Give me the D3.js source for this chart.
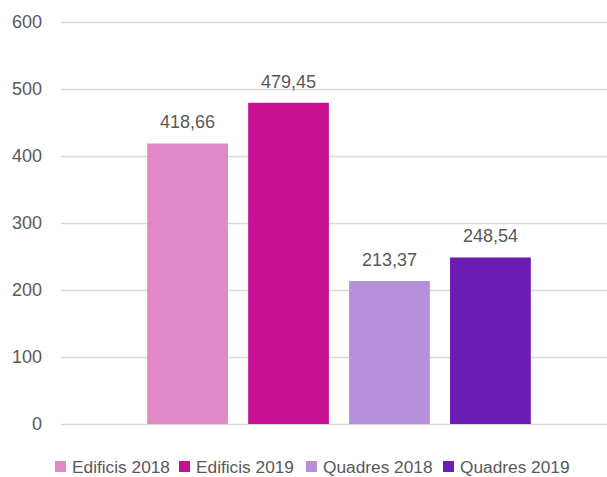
<!DOCTYPE html>
<html>
<head>
<meta charset="utf-8">
<script src="https://cdn.jsdelivr.net/npm/d3@7"></script>
<style>
  body { margin: 0; background: #fff; }
  text { font-family: "Liberation Sans", Arial, sans-serif; fill: #595959; }
</style>
</head>
<body>
<div id="box-div"></div>
<script>
const series = ['Edificis 2018', 'Edificis 2019', 'Quadres 2018', 'Quadres 2019']
const values = [418.66, 479.45, 213.37, 248.54]
const colors = ['#e288c6', '#c71193', '#b78fdb', '#6c1bb3']
const yTicks = [0, 100, 200, 300, 400, 500, 600]

const dms = {
    width: 607,
    height: 477,
    plotLeft: 61,
    plotRight: 607,
    plotTop: 22,
    plotBottom: 424
}

const box = d3.select('#box-div').append('svg')
    .attr('width', dms.width)
    .attr('height', dms.height)

const yScale = d3.scaleLinear()
    .domain([0, 600])
    .range([dms.plotBottom, dms.plotTop])

const xScale = d3.scaleBand()
    .domain(series)
    .range([127, 551])
    .paddingInner(0.2)
    .paddingOuter(0.2)

// gridlines
box.append('g')
    .selectAll('line')
    .data(yTicks)
    .join('line')
    .attr('x1', dms.plotLeft)
    .attr('x2', dms.plotRight)
    .attr('y1', d => Math.round(yScale(d)) + 0.5)
    .attr('y2', d => Math.round(yScale(d)) + 0.5)
    .attr('stroke', '#d9d9d9')
    .attr('stroke-width', 1.3)

// y tick labels
box.append('g')
    .selectAll('text')
    .data(yTicks)
    .join('text')
    .attr('x', 42)
    .attr('y', d => yScale(d))
    .attr('dy', '0.35em')
    .attr('text-anchor', 'end')
    .style('font-size', '18px')
    .text(d => d)

// bars
box.append('g')
    .selectAll('rect')
    .data(values)
    .join('rect')
    .attr('x', (d, i) => xScale(series[i]))
    .attr('y', d => yScale(d))
    .attr('width', xScale.bandwidth())
    .attr('height', d => yScale(0) - yScale(d))
    .attr('fill', (d, i) => colors[i])

// data labels
const fmt = d => d.toFixed(2).replace('.', ',')
box.append('g')
    .selectAll('text')
    .data(values)
    .join('text')
    .attr('x', (d, i) => xScale(series[i]) + xScale.bandwidth() / 2)
    .attr('y', d => yScale(d) - 15)
    .attr('text-anchor', 'middle')
    .style('font-size', '18px')
    .text(fmt)

// legend
const legendX = [55, 179, 306, 443]
const legend = box.append('g')
    .selectAll('g')
    .data(series)
    .join('g')
    .attr('transform', (d, i) => `translate(${legendX[i]},461)`)

legend.append('rect')
    .attr('width', 11)
    .attr('height', 11)
    .attr('fill', (d, i) => colors[i])

legend.append('text')
    .attr('x', 17)
    .attr('y', 11.5)
    .style('font-size', '17.3px')
    .text(d => d)
</script>
</body>
</html>
